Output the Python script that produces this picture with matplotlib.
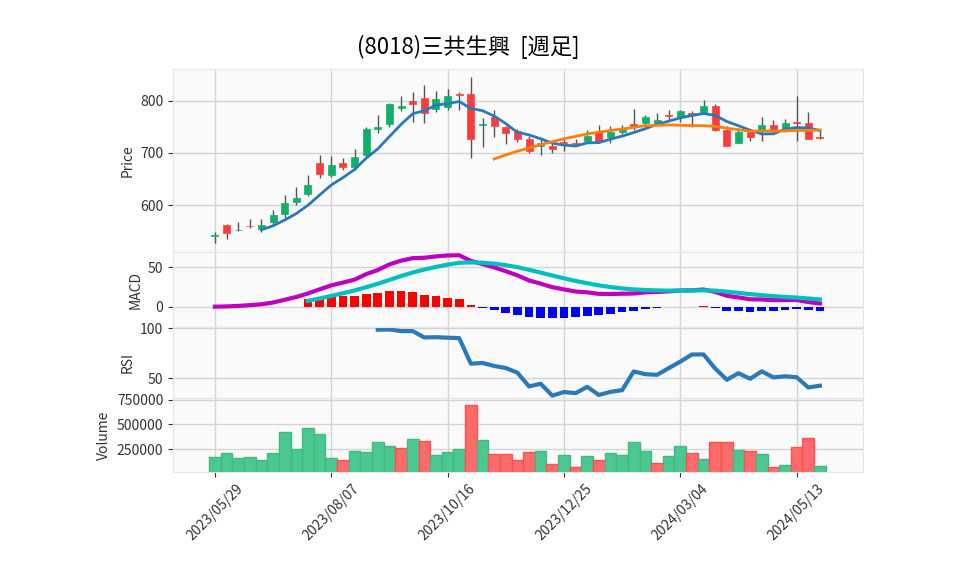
import numpy as np
import pandas as pd
import matplotlib
matplotlib.use('Agg')
import matplotlib.pyplot as plt

plt.rcParams['font.family'] = ['Noto Sans CJK JP', 'DejaVu Sans']

# 週足データ (2023/05/29 から 53 週)
dates = pd.date_range('2023-05-29', periods=53, freq='W-MON')
opens = [541, 562, 551, 559, 553, 567, 582, 605, 622, 681,
         658, 681, 674, 696, 746, 755, 786, 800, 806, 785,
         788, 813, 813, 753, 769, 750, 742, 726, 713, 714,
         722, 718, 724, 740, 731, 740, 756, 758, 756, 774,
         770, 776, 779, 790, 745, 720, 741, 743, 754, 747,
         760, 758, 731]
highs = [549, 563, 567, 574, 574, 590, 619, 635, 658, 696,
         694, 690, 708, 750, 774, 796, 810, 817, 831, 819,
         823, 818, 846, 767, 782, 752, 746, 733, 726, 722,
         726, 726, 744, 753, 751, 754, 785, 773, 777, 782,
         783, 780, 801, 794, 751, 749, 746, 769, 763, 765,
         810, 778, 746]
lows = [526, 535, 550, 555, 549, 561, 575, 600, 617, 652,
        653, 668, 668, 694, 738, 750, 781, 760, 758, 778,
        782, 783, 690, 712, 731, 717, 722, 700, 697, 700,
        704, 714, 722, 720, 720, 737, 745, 753, 753, 761,
        759, 750, 777, 742, 713, 719, 724, 724, 740, 740,
        724, 726, 727]
closes = [543, 547, 552, 558, 562, 581, 603, 614, 638, 660,
          677, 674, 692, 747, 750, 795, 791, 794, 777, 803,
          810, 811, 727, 756, 751, 738, 726, 703, 719, 708,
          720, 717, 733, 722, 741, 749, 752, 770, 763, 772,
          781, 774, 790, 744, 714, 740, 731, 754, 745, 758,
          757, 727, 729]
volumes = [170000, 210000, 160000, 170000, 140000, 210000, 420000, 250000, 460000, 400000,
           160000, 140000, 230000, 220000, 320000, 280000, 260000, 350000, 330000, 190000,
           220000, 250000, 690000, 340000, 200000, 200000, 140000, 220000, 230000, 100000,
           190000, 70000, 180000, 140000, 210000, 190000, 320000, 230000, 110000, 180000,
           280000, 210000, 150000, 320000, 320000, 240000, 230000, 200000, 70000, 90000,
           270000, 360000, 80000]

df = pd.DataFrame({'Open': opens, 'High': highs, 'Low': lows,
                   'Close': closes, 'Volume': volumes}, index=dates)
x = np.arange(len(df))

# 指標
ma5 = df['Close'].rolling(5).mean()
ma25 = df['Close'].rolling(25).mean()
ema12 = df['Close'].ewm(span=12, adjust=False).mean()
ema26 = df['Close'].ewm(span=26, adjust=False).mean()
macd = ema12 - ema26
signal = macd.ewm(span=9, adjust=False).mean()
signal[:8] = np.nan
hist = macd - signal
diff = df['Close'].diff()
gain = diff.clip(lower=0).rolling(14).sum()
loss = (-diff.clip(upper=0)).rolling(14).sum()
rsi = 100 * gain / (gain + loss)

up_c = '#0fb06a'
dn_c = '#ff3c3c'
bg = '#fafafa'
grid_c = '#d4d4d4'

fig = plt.figure(figsize=(9.58, 5.75), dpi=100)
L, W = 0.1806, 0.7202
ax1 = fig.add_axes([L, 0.5617, W, 0.3183])
ax2 = fig.add_axes([L, 0.4313, W, 0.1304], sharex=ax1)
ax3 = fig.add_axes([L, 0.3078, W, 0.1235], sharex=ax1)
ax4 = fig.add_axes([L, 0.1791, W, 0.1287], sharex=ax1)

# ローソク足
o = df['Open'].values
c = df['Close'].values
up = c >= o
body_h = np.where(np.abs(c - o) < 1.5, 1.5, c - o)
ax1.vlines(x, df['Low'], df['High'], color='#555555', linewidth=1, zorder=2)
ax1.bar(x, body_h, bottom=o, width=0.6,
        color=np.where(up, up_c, dn_c), edgecolor=np.where(up, up_c, dn_c),
        linewidth=0.5, zorder=3)
ax1.plot(x, ma5, color='#2a7ab9', linewidth=2, zorder=4)
ax1.plot(x, ma25, color='#ff7f0e', linewidth=2, zorder=4)
ax1.set_ylim(509.6, 861.5)
ax1.set_yticks([600, 700, 800])
ax1.set_ylabel('Price')

# MACD
ax2.bar(x, hist, width=0.75, color=np.where(hist >= 0, '#ff0000', '#0000ff'), zorder=2)
ax2.plot(x, macd, color='#bf00bf', linewidth=3, zorder=3)
ax2.plot(x, signal, color='#00bfbf', linewidth=3, zorder=3)
ax2.set_ylim(-25.8, 69.4)
ax2.set_yticks([0, 50])
ax2.set_ylabel('MACD')

# RSI
ax3.plot(x, rsi, color='#2a7ab9', linewidth=3)
ax3.set_ylim(30.3, 101.3)
ax3.set_yticks([50, 100])
ax3.set_ylabel('RSI')

# 出来高 (前週終値比で色分け)
vup = np.r_[True, c[1:] > c[:-1]]
ax4.bar(x, df['Volume'], width=1.0,
        color=np.where(vup, '#4cc790', '#ff6b6b'),
        edgecolor=np.where(vup, '#3dbb82', '#ff4f4f'), linewidth=1)
ax4.set_ylim(23000, 765000)
ax4.set_yticks([250000, 500000, 750000])
ax4.set_yticklabels(['250000', '500000', '750000'])
ax4.set_ylabel('Volume')

tick_pos = x[::10]
tick_labels = [d.strftime('%Y/%m/%d') for d in dates[::10]]
ax4.set_xticks(tick_pos)
ax4.set_xticklabels(tick_labels, rotation=45)
ax1.set_xlim(-3.6, 55.7)

for ax in (ax1, ax2, ax3, ax4):
    ax.set_facecolor(bg)
    ax.grid(True, color=grid_c, linewidth=1)
    ax.set_axisbelow(True)
    for s in ax.spines.values():
        s.set_color('#e6e6e6')
    ax.tick_params(axis='y', labelsize=10, colors='#333333', length=3.5)
    ax.yaxis.label.set_color('#333333')
for ax in (ax1, ax2, ax3):
    ax.tick_params(axis='x', bottom=False, labelbottom=False)
ax4.tick_params(axis='x', labelsize=10, colors='#333333', length=3.5)

fig.suptitle('(8018)三共生興  [週足]', x=0.489, y=0.94, fontsize=16)

fig.savefig('out.png', dpi=100)
